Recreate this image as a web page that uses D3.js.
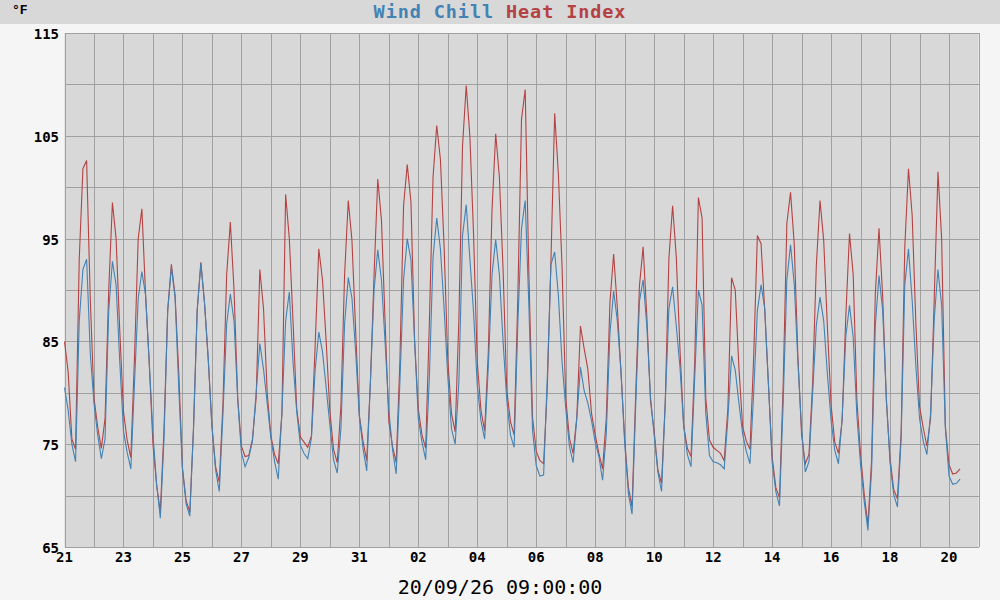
<!DOCTYPE html>
<html lang="en">
<head>
<meta charset="UTF-8">
<script src="https://d3js.org/d3.v7.min.js"></script>
<title>Wind Chill / Heat Index</title>
<style>
  body { margin: 0; background: #f5f5f5; }
</style>
</head>
<body>
<div id="chart"></div>
<script>
// readings every 3 hours, starting 21 Aug 2026 00:00
const startTime = new Date(Date.UTC(2026, 7, 21));
const endTime = new Date(Date.UTC(2026, 8, 21));
const stepHours = 3;

const windChill = [
  80.5, 78.3, 75.0, 73.3, 87.0, 92.0, 93.0, 83.8, 79.0, 75.9, 73.6, 75.5, 88.0, 92.8, 90.5, 83.0,
  76.3, 74.2, 72.6, 81.0, 89.2, 91.8, 89.5, 83.0, 76.0, 71.1, 67.8, 75.5, 88.0, 92.2, 89.3, 80.5,
  72.6, 69.2, 68.0, 76.5, 88.0, 92.6, 88.7, 83.4, 76.8, 72.5, 70.4, 78.0, 86.7, 89.6, 87.0, 79.3,
  74.2, 72.8, 73.7, 75.3, 80.0, 84.8, 82.3, 79.0, 75.6, 73.3, 71.6, 78.2, 87.0, 89.8, 83.0, 78.2,
  74.9, 74.1, 73.6, 75.6, 82.2, 85.9, 84.0, 80.5, 76.9, 73.5, 72.2, 76.5, 86.7, 91.2, 89.2, 84.0,
  77.7, 74.6, 72.4, 81.0, 90.0, 93.9, 91.0, 84.8, 78.3, 74.5, 72.1, 81.0, 91.0, 95.0, 92.9, 85.0,
  77.5, 75.2, 73.5, 81.5, 93.2, 97.0, 94.0, 88.2, 81.6, 76.5, 75.0, 81.0, 95.3, 98.3, 93.0, 87.8,
  80.7, 77.3, 75.5, 82.6, 91.5, 94.9, 91.5, 85.0, 79.3, 75.9, 74.7, 86.7, 96.0, 98.7, 88.5, 76.3,
  72.9, 71.9, 72.0, 81.5, 92.5, 93.7, 89.5, 83.0, 78.5, 74.8, 73.2, 77.5, 82.5, 80.2, 79.0, 77.3,
  75.2, 73.8, 71.5, 76.0, 85.8, 89.9, 87.0, 82.0, 75.1, 70.2, 68.2, 78.9, 88.9, 91.0, 86.5, 79.6,
  75.9, 72.3, 70.4, 79.0, 88.2, 90.3, 86.5, 82.5, 76.8, 74.0, 72.8, 81.5, 90.0, 88.5, 78.0, 73.9,
  73.3, 73.2, 73.0, 72.6, 77.5, 83.6, 82.2, 79.0, 76.0, 74.3, 73.1, 80.0, 88.0, 90.5, 88.2, 80.9,
  73.3, 70.4, 69.0, 79.0, 91.0, 94.4, 90.6, 83.0, 76.5, 72.3, 73.3, 80.0, 86.6, 89.3, 87.0, 81.8,
  77.3, 74.4, 73.1, 77.5, 85.5, 88.5, 85.4, 77.8, 73.0, 69.4, 66.6, 72.5, 86.5, 91.4, 88.0, 79.5,
  73.2, 70.1, 68.9, 75.4, 90.5, 94.0, 89.0, 82.6, 77.5, 75.3, 74.0, 78.0, 87.2, 92.0, 88.5, 76.6,
  71.9, 71.1, 71.2, 71.6
];

const heatIndex = [
  85.0, 82.0, 75.5, 74.5, 93.0, 101.8, 102.6, 89.0, 79.5, 76.7, 74.6, 77.5, 90.0, 98.5, 95.0, 86.0,
  78.2, 75.4, 73.7, 83.5, 95.0, 97.9, 89.5, 82.8, 75.0, 71.0, 68.4, 76.5, 88.0, 92.5, 89.5, 82.0,
  72.7, 69.5, 68.4, 76.5, 88.0, 92.7, 88.7, 83.2, 76.8, 72.8, 71.3, 79.0, 91.5, 96.6, 90.0, 79.5,
  74.8, 73.8, 73.9, 75.5, 79.5, 92.0, 88.2, 80.0, 75.8, 74.0, 73.1, 78.0, 99.3, 95.0, 87.0, 78.5,
  75.7, 75.2, 74.7, 75.8, 84.5, 94.0, 91.0, 85.0, 78.2, 74.5, 73.2, 78.7, 91.5, 98.7, 94.8, 86.0,
  77.8, 75.3, 73.4, 81.0, 91.5, 100.8, 96.8, 86.8, 77.2, 74.8, 73.2, 83.0, 98.2, 102.2, 98.6, 85.0,
  78.4, 75.9, 74.6, 86.8, 101.0, 106.0, 102.7, 94.2, 83.2, 78.0, 76.2, 87.0, 104.0, 109.9, 104.9, 95.3,
  83.0, 78.3, 76.3, 84.0, 97.8, 105.2, 101.0, 92.0, 80.3, 77.2, 75.9, 89.2, 106.6, 109.5, 91.5, 77.6,
  74.3, 73.4, 73.1, 80.5, 93.0, 107.2, 101.3, 92.3, 79.5, 75.6, 74.1, 77.6, 86.5, 84.3, 82.3, 78.0,
  75.9, 74.1, 72.6, 77.5, 88.8, 93.5, 88.3, 82.0, 75.5, 70.8, 68.9, 80.0, 90.4, 94.2, 87.5, 79.2,
  76.2, 72.5, 71.2, 79.0, 93.1, 98.2, 93.2, 84.2, 76.8, 74.6, 73.8, 83.0, 99.0, 97.0, 79.5, 75.4,
  74.7, 74.4, 74.1, 73.4, 78.5, 91.2, 90.0, 82.4, 76.7, 75.3, 74.5, 83.5, 95.3, 94.5, 88.0, 80.8,
  73.8, 70.8, 69.8, 80.8, 96.5, 99.5, 94.5, 83.5, 75.9, 73.1, 74.0, 81.0, 92.4, 98.7, 94.8, 86.4,
  78.8, 75.2, 74.1, 77.3, 87.5, 95.5, 91.5, 79.3, 74.0, 70.1, 67.2, 73.5, 89.6, 96.0, 89.4, 79.2,
  73.6, 70.6, 69.7, 76.0, 94.2, 101.8, 97.3, 86.8, 78.7, 76.6, 74.8, 77.5, 89.3, 101.5, 95.0, 76.8,
  73.0, 72.1, 72.2, 72.6
];

const yLabelTicks = [65, 75, 85, 95, 105, 115];
const yGridTicks = [65, 70, 75, 80, 85, 90, 95, 100, 105, 110, 115];
const unitLabel = "°F";
const titleParts = [
  { text: "Wind Chill", color: "#4282b4" },
  { text: "Heat Index", color: "#b44242" }
];
const bottomLabel = "20/09/26 09:00:00";

const width = 1000, height = 600;
const plotLeft = 64.5, plotRight = 978.5, plotTop = 33, plotBottom = 547;

const svg = d3.select("#chart").append("svg")
  .attr("width", width)
  .attr("height", height)
  .style("display", "block");

svg.append("rect").attr("width", width).attr("height", height).attr("fill", "#f5f5f5");
svg.append("rect").attr("width", width).attr("height", 24).attr("fill", "#d8d8d8");

const x = d3.scaleUtc([startTime, endTime], [plotLeft, plotRight]);
const y = d3.scaleLinear([65, 115], [plotBottom, plotTop]);

svg.append("rect")
  .attr("x", plotLeft).attr("y", plotTop)
  .attr("width", plotRight - plotLeft).attr("height", plotBottom - plotTop)
  .attr("fill", "#d8d8d8");

// grid: one vertical line a day, one horizontal every 5 degrees
const days = d3.utcDay.range(startTime, d3.utcDay.offset(endTime, 1));
svg.append("g")
  .attr("stroke", "#a0a0a0")
  .attr("shape-rendering", "crispEdges")
  .call(g => g.selectAll("line.v").data(days).join("line")
    .attr("x1", d => Math.round(x(d)) + 0.5).attr("x2", d => Math.round(x(d)) + 0.5)
    .attr("y1", plotTop).attr("y2", plotBottom))
  .call(g => g.selectAll("line.h").data(yGridTicks).join("line")
    .attr("x1", plotLeft).attr("x2", plotRight)
    .attr("y1", d => Math.round(y(d)) + 0.5).attr("y2", d => Math.round(y(d)) + 0.5));

// y labels
svg.append("g")
  .attr("font-family", "'DejaVu Sans Mono', monospace")
  .attr("font-size", 14)
  .attr("font-weight", "bold")
  .attr("fill", "#000")
  .attr("text-anchor", "end")
  .selectAll("text").data(yLabelTicks).join("text")
  .attr("x", 59)
  .attr("y", d => y(d) + 1)
  .attr("dy", "0.35em")
  .text(d => d);

// x labels every second day
const labelDays = days.filter((d, i) => i % 2 === 0 && d < endTime);
svg.append("g")
  .attr("font-family", "'DejaVu Sans Mono', monospace")
  .attr("font-size", 14)
  .attr("font-weight", "bold")
  .attr("fill", "#000")
  .attr("text-anchor", "middle")
  .selectAll("text").data(labelDays).join("text")
  .attr("x", d => x(d))
  .attr("y", 562)
  .text(d3.utcFormat("%d"));

// series
const times = windChill.map((_, i) => d3.utcHour.offset(startTime, i * stepHours));
const line = d3.line()
  .x((d, i) => x(times[i]))
  .y(d => y(d));

svg.append("path")
  .datum(heatIndex)
  .attr("fill", "none")
  .attr("stroke", "#b44242")
  .attr("stroke-width", 1.1)
  .attr("d", line);

svg.append("path")
  .datum(windChill)
  .attr("fill", "none")
  .attr("stroke", "#4282b4")
  .attr("stroke-width", 1.1)
  .attr("d", line);

// labels
svg.append("text")
  .attr("x", 12).attr("y", 14)
  .attr("font-family", "'Liberation Mono', monospace")
  .attr("font-size", 13)
  .attr("font-weight", "bold")
  .text(unitLabel);

const title = svg.append("text")
  .attr("x", 500).attr("y", 18)
  .attr("text-anchor", "middle")
  .attr("font-family", "'DejaVu Sans Mono', monospace")
  .attr("font-size", 18.5)
  .attr("letter-spacing", 0.9)
  .attr("font-weight", "bold");
titleParts.forEach((p, i) => {
  title.append("tspan")
    .attr("fill", p.color)
    .text((i > 0 ? " " : "") + p.text);
});

svg.append("text")
  .attr("x", 500).attr("y", 594)
  .attr("text-anchor", "middle")
  .attr("font-family", "'DejaVu Sans Mono', monospace")
  .attr("font-size", 20)
  .attr("fill", "#000")
  .text(bottomLabel);
</script>
</body>
</html>
